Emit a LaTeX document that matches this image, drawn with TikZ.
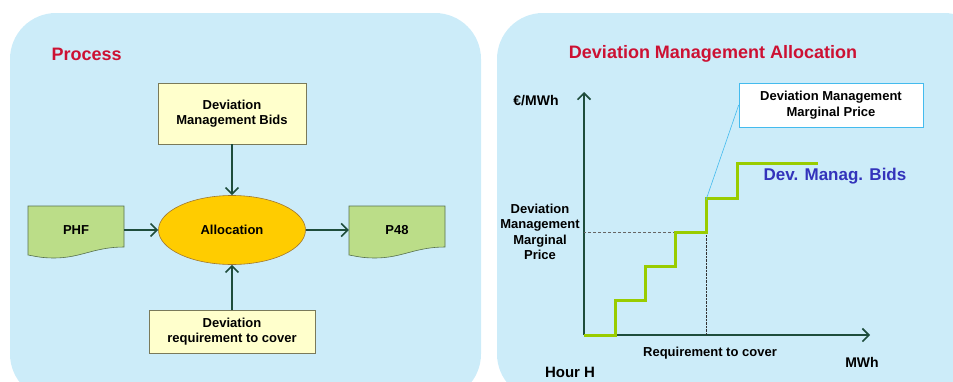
\documentclass[tikz,border=0pt]{standalone}
\usepackage{fontspec}
\setmainfont{Liberation Sans}
\usetikzlibrary{positioning}
\usetikzlibrary{arrows.meta}
\usetikzlibrary{shapes.geometric}
\definecolor{panelblue}{HTML}{CCECF9}
\definecolor{titlered}{HTML}{CC1133}
\definecolor{boxyellow}{HTML}{FFFFCC}
\definecolor{boxline}{HTML}{7A7A5A}
\definecolor{docgreen}{HTML}{BBDD88}
\definecolor{docline}{HTML}{56704E}
\definecolor{allocgold}{HTML}{FFCC00}
\definecolor{allocline}{HTML}{A07830}
\definecolor{arrowgreen}{HTML}{1E4D3C}
\definecolor{bidgreen}{HTML}{99CC00}
\definecolor{bidblue}{HTML}{3333BB}
\definecolor{calloutblue}{HTML}{44BBEE}
\tikzset{x=1pt, y=-1pt, % pixel coordinates of the sheet
      panel/.style={fill=panelblue, rounded corners=46pt},
      title/.style={font=\fontsize{18}{21}\selectfont\bfseries, text=titlered},
      small/.style={font=\fontsize{13}{15.5}\selectfont\bfseries, align=center},
      axislabel/.style={font=\fontsize{14}{16}\selectfont\bfseries},
      inputbox/.style={small, draw=boxline, fill=boxyellow, semithick},
      docshape/.style={draw=docline, fill=docgreen, semithick},
      process/.style={small, ellipse, draw=allocline, fill=allocgold, semithick,
            minimum width=147pt, minimum height=69pt},
      flow/.style={draw=arrowgreen, line width=1.6pt, -{Straight Barb[length=6.5pt,width=13pt]}},
      bidline/.style={draw=bidgreen, line width=3pt},
      bidlabel/.style={font=\fontsize{17}{20}\selectfont\bfseries, text=bidblue},
      callout/.style={small, draw=calloutblue, fill=white, semithick,
            minimum width=184pt, minimum height=44pt}}
% document sheet with a wavy bottom: name, x, y, text
\newcommand{\docsheet}[4]{%
      \filldraw[docshape] (#2-48,#3-24) -- (#2+48,#3-24) -- (#2+48,#3+17)
            .. controls (#2+18,#3+17) and (#2+5,#3+28) .. (#2-22,#3+28)
            .. controls (#2-35,#3+28) and (#2-42,#3+26) .. (#2-48,#3+25) -- cycle;
      \node[small, minimum width=96pt, minimum height=48pt] (#1) at (#2,#3) {#4};}

\begin{document}
\begin{tikzpicture}
      \useasboundingbox (0,0) rectangle (953,381);
      \clip (0,0) rectangle (953,381);
      \fill[panel] (10,13) rectangle (481,400);
      \fill[panel] (497,13) rectangle (990,400);

      % left panel: the process
      \node[title, anchor=west] (process title) at (48,54) {Process};
      \node[inputbox, minimum width=148pt, minimum height=61pt] (bids) at (232,113.5) {Deviation\\Management Bids};
      \node[process] (alloc) at (232,230) {Allocation};
      \node[inputbox, minimum width=166pt, minimum height=43pt] (need) at (232,331.5) {Deviation\\requirement to cover};
      \docsheet{phf}{76}{230}{PHF}
      \docsheet{p48}{397}{230}{P48}
      \draw[flow] (bids) -- (alloc);
      \draw[flow] (need) -- (alloc);
      \draw[flow] (phf) -- (alloc);
      \draw[flow] (alloc) -- (p48);

      % right panel: the chart
      \node[title] (chart title) at (713,54) {Deviation Management Allocation};
      \coordinate (origin) at (584,335);
      \coordinate (ytop) at (584,92);
      \coordinate (xend) at (870,335);
      \coordinate (mp) at (706,232);
      \coordinate (tip) at (706,200);
      \draw[flow] (origin) -- (ytop);
      \draw[flow] (origin) -- (xend);
      \draw[gray!80!black, densely dashed, thin] (mp) -- (mp -| origin);
      \draw[black!80, densely dotted, thin] (mp) -- (mp |- origin);
      \draw[bidline] (origin) -- (615,335) |- (645,300) |- (675,266) |- (706,232) |- (737,198) |- (818,163);
      \node[bidlabel] (bid label) at (835,176) {Dev. Manag. Bids};
      \node[callout] (marginal box) at (831,105) {Deviation Management\\Marginal Price};
      \draw[calloutblue, semithick] (marginal box.west) -- (tip);
      \node[axislabel] (unit y) at (536,101) {€/MWh};
      \node[small] (price label) at (540,232) {Deviation\\Management\\Marginal\\Price};
      \node[small] (req label) at (710,353) {Requirement to cover};
      \node[axislabel] (unit x) at (862,362) {MWh};
      \node[axislabel, font=\fontsize{15}{17}\selectfont\bfseries] (hour) at (570,372) {Hour H};
\end{tikzpicture}
\end{document}
